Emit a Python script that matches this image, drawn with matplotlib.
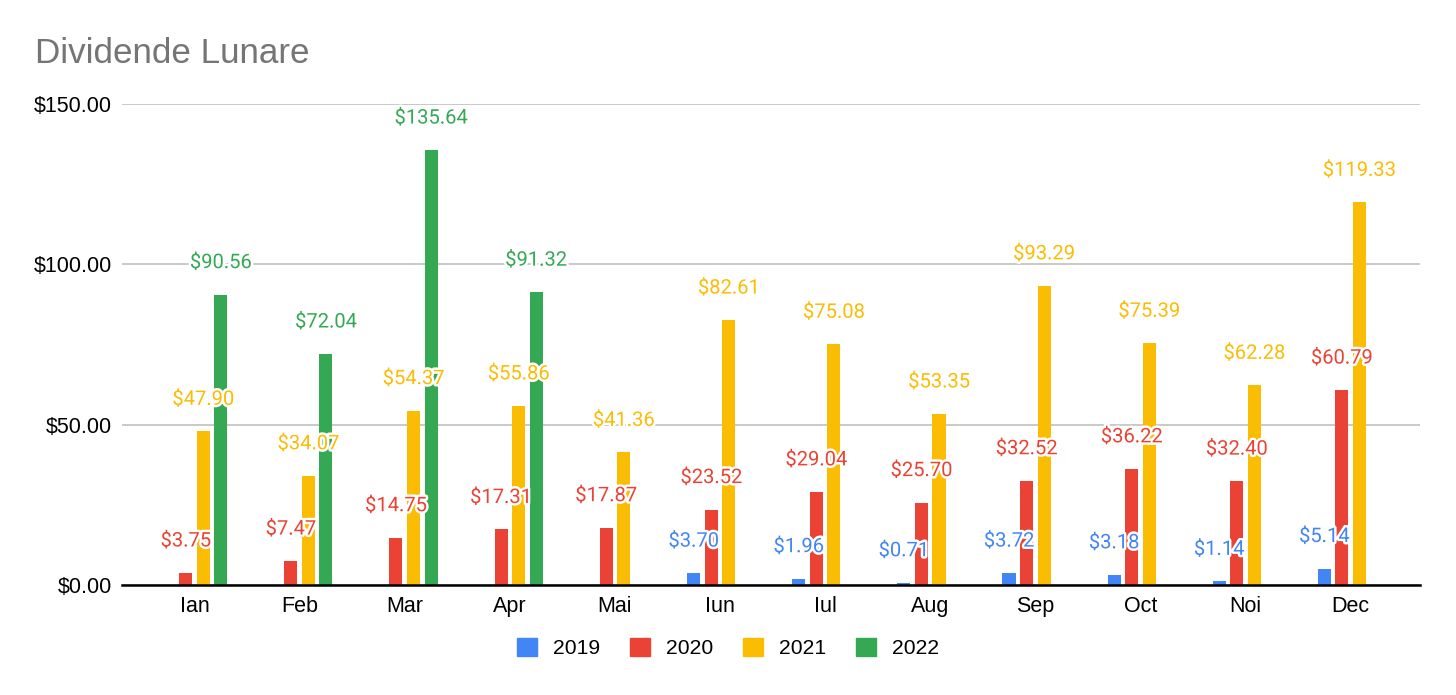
import numpy as np
import matplotlib
matplotlib.use("Agg")
import matplotlib.pyplot as plt
import matplotlib.patheffects as pe
from matplotlib.patches import Patch

months = ["Ian", "Feb", "Mar", "Apr", "Mai", "Iun", "Iul", "Aug", "Sep", "Oct", "Noi", "Dec"]
years = ["2019", "2020", "2021", "2022"]
nan = np.nan
v2019 = [nan, nan, nan, nan, nan, 3.70, 1.96, 0.71, 3.72, 3.18, 1.14, 5.14]
v2020 = [3.75, 7.47, 14.75, 17.31, 17.87, 23.52, 29.04, 25.70, 32.52, 36.22, 32.40, 60.79]
v2021 = [47.90, 34.07, 54.37, 55.86, 41.36, 82.61, 75.08, 53.35, 93.29, 75.39, 62.28, 119.33]
v2022 = [90.56, 72.04, 135.64, 91.32, nan, nan, nan, nan, nan, nan, nan, nan]
series = [v2019, v2020, v2021, v2022]
colors = ["#4285F4", "#EA4335", "#FBBC04", "#34A853"]

fig = plt.figure(figsize=(14.56, 6.95), dpi=100)
ax = fig.add_axes([122 / 1456, 110 / 695, (1420 - 122) / 1456, 481 / 695])

x = np.arange(len(months))
step = 0.167
width = 0.124
for i, (vals, col) in enumerate(zip(series, colors)):
    pos = x + (i - 1.5) * step
    vals = np.array(vals, dtype=float)
    ax.bar(pos, vals, width=width, color=col, zorder=3)
    for px, v in zip(pos, vals):
        if np.isnan(v):
            continue
        ax.annotate(f"${v:.2f}", (px, v), xytext=(0, 32), textcoords="offset pixels",
                    ha="center", va="center", color=col, fontsize=14.5,
                    family="Roboto", zorder=5, annotation_clip=False,
                    path_effects=[pe.withStroke(linewidth=3.5, foreground="white")])

ax.set_xlim(-0.69, 11.66)
ax.set_ylim(0, 150)
ax.set_yticks([0, 50, 100, 150])
ax.set_yticklabels([f"${t:.2f}" for t in [0, 50, 100, 150]])
ax.set_xticks(x)
ax.set_xticklabels(months)
ax.tick_params(axis="both", length=0, labelsize=15.5, colors="black")
ax.tick_params(axis="y", pad=7)
ax.tick_params(axis="x", pad=8)
for lab in ax.get_xticklabels() + ax.get_yticklabels():
    lab.set_family("Liberation Sans")

ax.grid(axis="y", color="#c0c0c0", linewidth=1.2, zorder=0)
for s in ["top", "right", "left"]:
    ax.spines[s].set_visible(False)
ax.spines["bottom"].set_color("black")
ax.spines["bottom"].set_linewidth(1.8)
ax.spines["bottom"].set_zorder(4)

fig.text(35 / 1456, 1 - 63 / 695, "Dividende Lunare", fontsize=25.2, color="#757575",
         family="Liberation Sans", ha="left", va="baseline")

handles = [Patch(facecolor=c, edgecolor=c, label=y) for c, y in zip(colors, years)]
fig.legend(handles=handles, loc="center", bbox_to_anchor=(728 / 1456, 1 - 648 / 695),
           ncol=4, frameon=False, handlelength=0.95, handleheight=0.95,
           handletextpad=0.72, columnspacing=1.45, prop={"family": "Liberation Sans", "size": 15.2})

fig.savefig("out.png", dpi=100, facecolor="white")
